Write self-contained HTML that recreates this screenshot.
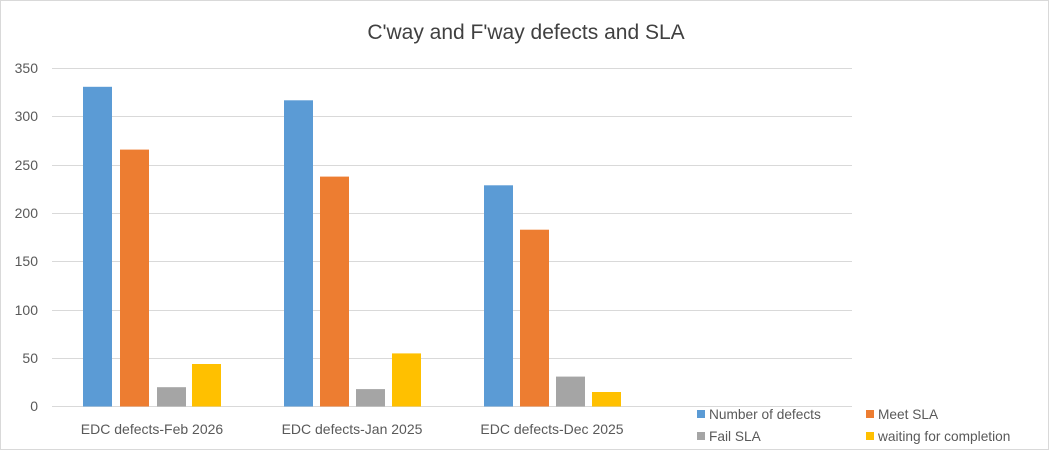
<!DOCTYPE html><html><head><style>body{margin:0;background:#fff}</style></head><body>
<svg width="1049" height="450" xmlns="http://www.w3.org/2000/svg" font-family="Liberation Sans, sans-serif">
<rect x="0.5" y="0.5" width="1048" height="449" fill="#fff" stroke="#d9d9d9"/>
<text x="526" y="39" font-size="21" fill="#404040" text-anchor="middle">C'way and F'way defects and SLA</text>
<g stroke="#d9d9d9" stroke-width="1">
<line x1="52" x2="852" y1="68.5" y2="68.5"/><line x1="52" x2="852" y1="116.5" y2="116.5"/>
<line x1="52" x2="852" y1="165.5" y2="165.5"/><line x1="52" x2="852" y1="213.5" y2="213.5"/>
<line x1="52" x2="852" y1="261.5" y2="261.5"/><line x1="52" x2="852" y1="310.5" y2="310.5"/>
<line x1="52" x2="852" y1="358.5" y2="358.5"/><line x1="52" x2="852" y1="406.5" y2="406.5"/>
</g>
<g font-size="14" fill="#595959" text-anchor="end">
<text x="38" y="73">350</text><text x="38" y="121">300</text><text x="38" y="170">250</text>
<text x="38" y="218">200</text><text x="38" y="266">150</text><text x="38" y="315">100</text>
<text x="38" y="363">50</text><text x="38" y="411">0</text>
</g>
<g>
<rect x="83" y="86.8" width="29" height="319.7" fill="#5b9bd5"/>
<rect x="120" y="149.6" width="29" height="256.9" fill="#ed7d31"/>
<rect x="157" y="387.2" width="29" height="19.3" fill="#a5a5a5"/>
<rect x="192" y="364" width="29" height="42.5" fill="#ffc000"/>
<rect x="284" y="100.3" width="29" height="306.2" fill="#5b9bd5"/>
<rect x="320" y="176.6" width="29" height="229.9" fill="#ed7d31"/>
<rect x="356" y="389.1" width="29" height="17.4" fill="#a5a5a5"/>
<rect x="392" y="353.4" width="29" height="53.1" fill="#ffc000"/>
<rect x="484" y="185.3" width="29" height="221.2" fill="#5b9bd5"/>
<rect x="520" y="229.7" width="29" height="176.8" fill="#ed7d31"/>
<rect x="556" y="376.6" width="29" height="29.9" fill="#a5a5a5"/>
<rect x="592" y="392" width="29" height="14.5" fill="#ffc000"/>
</g>
<g font-size="14" fill="#595959" text-anchor="middle">
<text x="152" y="434">EDC defects-Feb 2026</text>
<text x="352" y="434">EDC defects-Jan 2025</text>
<text x="552" y="434">EDC defects-Dec 2025</text>
</g>
<g font-size="13.7" fill="#595959">
<rect x="697" y="410" width="8" height="8" fill="#5b9bd5"/><text x="709" y="419">Number of defects</text>
<rect x="866" y="410" width="8" height="8" fill="#ed7d31"/><text x="878" y="419">Meet SLA</text>
<rect x="697" y="432" width="8" height="8" fill="#a5a5a5"/><text x="709" y="441">Fail SLA</text>
<rect x="866" y="432" width="8" height="8" fill="#ffc000"/><text x="878" y="441">waiting for completion</text>
</g>
</svg>
</body></html>
